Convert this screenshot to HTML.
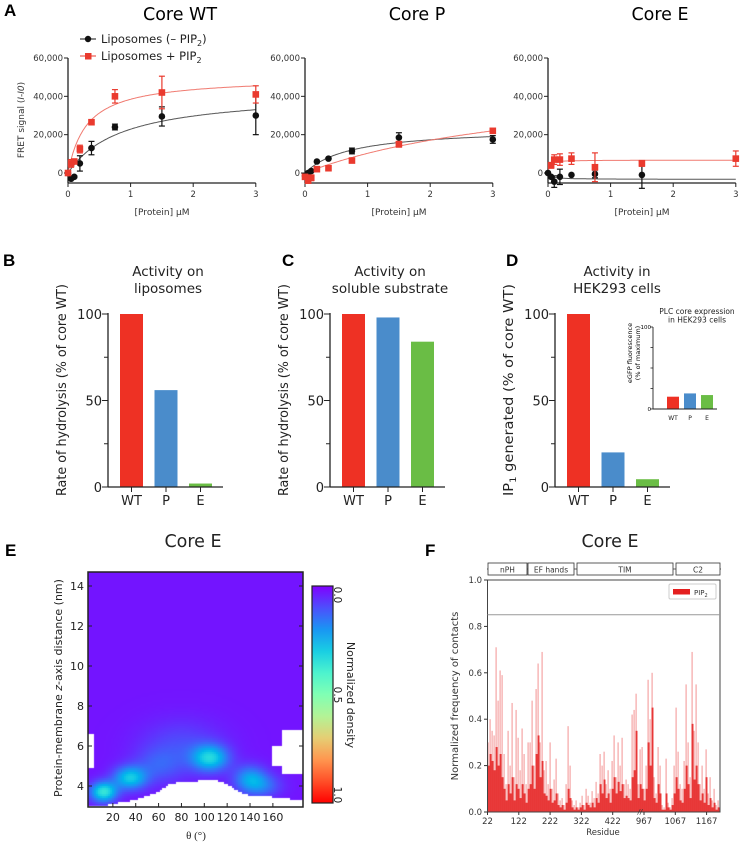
<!DOCTYPE html>
<html><head><meta charset="utf-8">
<style>
html,body{margin:0;padding:0;background:#fff;}
svg{display:block;font-family:"DejaVu Sans","Liberation Sans",sans-serif;}
.pl{font-family:"Liberation Sans",sans-serif;font-weight:bold;font-size:17px;}
</style></head>
<body>
<svg id="fig" width="750" height="843" viewBox="0 0 750 843" xmlns="http://www.w3.org/2000/svg">
<text class="pl" x="4" y="16">A</text>
<text class="pl" x="3" y="266">B</text>
<text class="pl" x="282" y="266">C</text>
<text class="pl" x="506" y="266">D</text>
<text class="pl" x="5" y="556">E</text>
<text class="pl" x="425" y="556">F</text>
<foreignObject x="88" y="572" width="215" height="235">
<canvas id="heat" width="215" height="235" xmlns="http://www.w3.org/1999/xhtml" style="display:block"></canvas>
</foreignObject>
</svg>
<script>
// ---------- Panel A data ----------
const concs = [0, 0.05, 0.1, 0.19, 0.375, 0.75, 1.5, 3];
const wtBlack = [0, -3000, -2000, 5000, 13000, 24000, 29500, 30000];
const wtBlackErr = [0, 500, 500, 4000, 3500, 1500, 5000, 10000];
const wtRed = [0, 5000, 6000, 12500, 26500, 40000, 42000, 41000];
const wtRedErr = [0, 2000, 1000, 2000, 500, 3500, 8500, 4500];
const pBlack = [-1500, 0, 1000, 6000, 7500, 11500, 18500, 17500];
const pBlackErr = [0, 0, 0, 0, 0, 1500, 2500, 2000];
const pRed = [-2000, -4000, -2500, 2000, 2500, 6500, 15000, 22000];
const pRedErr = [0, 0, 1500, 0, 0, 1000, 1500, 1000];
const eBlack = [0, -2000, -4500, -2000, -1000, -500, -1000, null];
const eBlackErr = [0, 0, 3000, 4000, 0, 2000, 7000, 0];
const eRed = [null, 4000, 7000, 7000, 7500, 3000, 5000, 7500];
const eRedErr = [0, 1500, 2500, 3000, 3000, 7500, 1500, 4000];
const fitBmax = {wtB: 42430, wtR: 50000, pB: 23585, pR: 51333, eB: -3300, eR: 6700};
const fitK = {wtB: 0.857, wtR: 0.3, pB: 0.724, pR: 4, eB: 0.05, eR: 0.02};
const aYTicks = [0, 20000, 40000, 60000];
const aYTickLabels = ["0", "20,000", "40,000", "60,000"];
const aXTicks = [0, 1, 2, 3];
// ---------- Bar panels data ----------
const barCats = ["WT", "P", "E"];
const liposomeVals = [100, 56, 2];
const solubleVals = [100, 98, 84];
const hekVals = [100, 20, 4.5];
const expressionVals = [15, 19, 17];
const barColors = ["#ee3124", "#4a8ccb", "#6abd45"];
// ---------- Panel E data ----------
const blobTheta = [12, 35, 105, 140, 80, 60, 150];
const blobZ = [3.7, 4.4, 5.4, 4.4, 6.0, 5.0, 4.0];
const blobAmp = [0.33, 0.26, 0.27, 0.17, 0.07, 0.08, 0.12];
const blobSigT = [8, 10, 11, 10, 25, 15, 12];
const blobSigZ = [0.35, 0.4, 0.45, 0.45, 0.9, 0.6, 0.4];
const boundaryTheta = [0, 10, 20, 30, 40, 50, 60, 70, 80, 90, 100, 110, 120, 130, 140, 150, 160, 170, 180, 190];
const boundaryZ = [2.95, 3.0, 3.1, 3.2, 3.3, 3.5, 3.7, 4.1, 4.2, 4.2, 4.3, 4.3, 4.1, 3.7, 3.5, 3.5, 3.45, 3.4, 3.3, 3.3];
const eYTicks = [4, 6, 8, 10, 12, 14];
const eXTicks = [20, 40, 60, 80, 100, 120, 140, 160];
// ---------- Panel F data ----------
const contactLight = [0.30,0.40,0.35,0.33,0.71,0.48,0.61,0.59,0.25,0.12,
0.35,0.20,0.47,0.15,0.44,0.32,0.18,0.36,0.25,0.12,
0.30,0.30,0.48,0.20,0.53,0.64,0.30,0.69,0.18,0.22,
0.12,0.30,0.10,0.14,0.23,0.08,0.05,0.06,0.03,0.12,
0.37,0.20,0.05,0.03,0.05,0.02,0.04,0.07,0.03,0.10,
0.07,0.04,0.09,0.06,0.13,0.08,0.25,0.20,0.26,0.12,
0.18,0.10,0.22,0.33,0.15,0.30,0.20,0.32,0.12,0.14,
0.12,0.10,0.42,0.44,0.51,0.12,0.27,0.28,0.10,0.20,
0.57,0.40,0.60,0.15,0.08,0.28,0.20,0.03,0.02,0.23,
0.04,0.02,0.06,0.20,0.45,0.26,0.12,0.10,0.22,0.55,
0.30,0.15,0.69,0.35,0.55,0.30,0.12,0.20,0.10,0.27,
0.08,0.15,0.05,0.10,0.03,0.05];
const contactDark = [0.20,0.25,0.22,0.18,0.28,0.20,0.25,0.15,0.10,0.05,
0.12,0.08,0.15,0.05,0.12,0.10,0.06,0.12,0.08,0.04,
0.10,0.12,0.20,0.10,0.25,0.33,0.15,0.22,0.08,0.07,
0.05,0.10,0.04,0.05,0.08,0.03,0.02,0.03,0.01,0.04,
0.10,0.06,0.02,0.01,0.02,0.01,0.02,0.03,0.01,0.04,
0.03,0.02,0.04,0.02,0.06,0.04,0.12,0.08,0.14,0.06,
0.08,0.04,0.10,0.15,0.08,0.13,0.09,0.12,0.06,0.07,
0.06,0.05,0.15,0.18,0.35,0.06,0.12,0.10,0.05,0.10,
0.30,0.20,0.45,0.06,0.04,0.12,0.08,0.01,0.01,0.08,
0.02,0.01,0.03,0.08,0.15,0.10,0.05,0.04,0.10,0.20,
0.12,0.06,0.38,0.14,0.20,0.12,0.05,0.08,0.04,0.15,
0.03,0.06,0.02,0.04,0.01,0.02];
const fXTickLabels = ["22", "122", "222", "322", "422", "967", "1067", "1167"];
const fYTicks = [0, 0.2, 0.4, 0.6, 0.8, 1.0];
const domainNames = ["nPH", "EF hands", "TIM", "C2"];

const NS = "http://www.w3.org/2000/svg";
const svg = document.getElementById("fig");
function mk(tag, attrs, parent, txt) {
  const e = document.createElementNS(NS, tag);
  for (const k in attrs) e.setAttribute(k, attrs[k]);
  if (txt !== undefined) e.textContent = txt;
  (parent || svg).appendChild(e);
  return e;
}
function grp(name) {
  const g = mk("g", {});
  
  
  return g;
}

// ---------- Panel A ----------
function panelA(x0, title, name, blackV, blackE, redV, redE, fb, fr) {
  const g = grp(name);
  const sx = v => x0 + v * 62.6;
  const sy = v => 173 - v * 115 / 60000;
  const t = mk("text", {x: x0 + 112, y: 20, "font-size": 17.5, "text-anchor": "middle"}, g, title);
  
  
  mk("line", {x1: x0, y1: 58, x2: x0, y2: 183, stroke: "#222", "stroke-width": 1.3}, g);
  mk("line", {x1: x0, y1: 183, x2: sx(3), y2: 183, stroke: "#222", "stroke-width": 1.3}, g);
  aYTicks.forEach((v, i) => {
    mk("line", {x1: x0 - 4, y1: sy(v), x2: x0, y2: sy(v), stroke: "#222"}, g);
    const l = mk("text", {x: x0 - 5, y: sy(v) + 3, "font-size": 8.5, "text-anchor": "end", fill: "#333"}, g, aYTickLabels[i]);
    
    
  });
  aXTicks.forEach(v => {
    mk("line", {x1: sx(v), y1: 183, x2: sx(v), y2: 187, stroke: "#222"}, g);
    const l = mk("text", {x: sx(v), y: 197, "font-size": 8.5, "text-anchor": "middle", fill: "#333"}, g, String(v));
    
    
  });
  const xl = mk("text", {x: x0 + 94, y: 215, "font-size": 9, "text-anchor": "middle", fill: "#333"}, g, "[Protein] μM");
  
  
  [[fb, "#555"], [fr, "#f07a70"]].forEach(([k, c]) => {
    let d = "";
    for (let i = 0; i <= 150; i++) {
      const v = 3 * i / 150;
      const y = fitBmax[k] * v / (fitK[k] + v);
      d += (i ? "L" : "M") + sx(v).toFixed(1) + "," + sy(y).toFixed(1);
    }
    const p = mk("path", {d: d, fill: "none", stroke: c, "stroke-width": 1}, g);
    
    
  });
  function pts(vals, errs, col, sq, nm) {
    vals.forEach((v, i) => {
      if (v === null) return;
      const cx = sx(concs[i]), cy = sy(v);
      if (errs[i] > 0) {
        const e1 = sy(v + errs[i]), e2 = sy(v - errs[i]);
        mk("line", {x1: cx, y1: e1, x2: cx, y2: e2, stroke: col, "stroke-width": 1.2}, g);
        mk("line", {x1: cx - 3, y1: e1, x2: cx + 3, y2: e1, stroke: col, "stroke-width": 1.2}, g);
        mk("line", {x1: cx - 3, y1: e2, x2: cx + 3, y2: e2, stroke: col, "stroke-width": 1.2}, g);
      }
      const m = sq ? mk("rect", {x: cx - 3.3, y: cy - 3.3, width: 6.6, height: 6.6, fill: col}, g)
                   : mk("circle", {cx: cx, cy: cy, r: 3.3, fill: col}, g);
      
      
    });
  }
  pts(blackV, blackE, "#111", false, "point-minus-pip2");
  pts(redV, redE, "#ea3a2e", true, "point-plus-pip2");
}
panelA(68, "Core WT", "panel-a-core-wt", wtBlack, wtBlackErr, wtRed, wtRedErr, "wtB", "wtR");
panelA(305, "Core P", "panel-a-core-p", pBlack, pBlackErr, pRed, pRedErr, "pB", "pR");
panelA(548, "Core E", "panel-a-core-e", eBlack, eBlackErr, eRed, eRedErr, "eB", "eR");
{
  const g = grp("legend-a");
  mk("line", {x1: 80, y1: 39, x2: 96, y2: 39, stroke: "#111"}, g);
  mk("circle", {cx: 88, cy: 39, r: 3.2, fill: "#111"}, g);
  const a = mk("text", {x: 101, y: 43, "font-size": 11.5, fill: "#222"}, g);
  
  
  mk("tspan", {}, a, "Liposomes (– PIP");
  mk("tspan", {"font-size": 8, dy: 3}, a, "2");
  mk("tspan", {dy: -3}, a, ")");
  mk("line", {x1: 80, y1: 56, x2: 96, y2: 56, stroke: "#ea3a2e"}, g);
  mk("rect", {x: 85, y: 53, width: 6.5, height: 6.5, fill: "#ea3a2e"}, g);
  const b = mk("text", {x: 101, y: 60, "font-size": 11.5, fill: "#222"}, g);
  
  
  mk("tspan", {}, b, "Liposomes + PIP");
  mk("tspan", {"font-size": 8, dy: 3}, b, "2");
  const yl = mk("text", {transform: "translate(24,120) rotate(-90)", "font-size": 9, "text-anchor": "middle", fill: "#333"}, g);
  
  
  mk("tspan", {}, yl, "FRET signal (");
  mk("tspan", {"font-style": "italic"}, yl, "I-I0");
  mk("tspan", {}, yl, ")");
}

// ---------- Bar panels ----------
function barPanel(ax, vals, name, titleLines, titleX, ylabelX, ylabel, sub) {
  const g = grp(name);
  const sy = v => 487 - v * 1.73;
  titleLines.forEach((t, i) => {
    const e = mk("text", {x: titleX, y: 276 + i * 17, "font-size": 13.5, "text-anchor": "middle", fill: "#222"}, g, t);
    
    
  });
  vals.forEach((v, i) => {
    const r = mk("rect", {x: ax + 12 + i * 34.5, y: sy(v), width: 23, height: 487 - sy(v), fill: barColors[i]}, g);
    
    
    mk("line", {x1: ax + 23.5 + i * 34.5, y1: 487, x2: ax + 23.5 + i * 34.5, y2: 492, stroke: "#222"}, g);
    const l = mk("text", {x: ax + 23.5 + i * 34.5, y: 505, "font-size": 13, "text-anchor": "middle", fill: "#222"}, g, barCats[i]);
    
    
  });
  mk("line", {x1: ax, y1: 313, x2: ax, y2: 487.5, stroke: "#222", "stroke-width": 1.3}, g);
  mk("line", {x1: ax, y1: 487, x2: ax + 115, y2: 487, stroke: "#222", "stroke-width": 1.3}, g);
  [0, 25, 50, 75, 100].forEach(v => {
    const major = v % 50 === 0;
    mk("line", {x1: ax - (major ? 6 : 4), y1: sy(v), x2: ax, y2: sy(v), stroke: "#222"}, g);
    if (major) {
      const l = mk("text", {x: ax - 6, y: sy(v) + 5, "font-size": 13, "text-anchor": "end", fill: "#222"}, g, String(v));
      
      
    }
  });
  const yl = mk("text", {transform: "translate(" + ylabelX + ",390) rotate(-90)", "font-size": 13, "text-anchor": "middle", fill: "#222", textLength: 212, lengthAdjust: "spacingAndGlyphs"}, g);
  
  
  if (sub) {
    mk("tspan", {}, yl, "IP");
    mk("tspan", {"font-size": 9, dy: 3}, yl, "1");
    mk("tspan", {dy: -3}, yl, " generated (% of core WT)");
  } else yl.textContent = ylabel;
}
barPanel(108, liposomeVals, "panel-b-liposomes", ["Activity on", "liposomes"], 168, 66, "Rate of hydrolysis (% of core WT)");
barPanel(330, solubleVals, "panel-c-soluble", ["Activity on", "soluble substrate"], 390, 288, "Rate of hydrolysis (% of core WT)");
barPanel(555, hekVals, "panel-d-hek293", ["Activity in", "HEK293 cells"], 617, 513, "", true);
{
  const g = grp("inset-expression");
  const ax = 653, sy = v => 409 - v * 0.82;
  ["PLC core expression", "in HEK293 cells"].forEach((t, i) => {
    mk("text", {x: 697, y: 314 + i * 8.5, "font-size": 7.5, "text-anchor": "middle", fill: "#222"}, g, t);
  });
  expressionVals.forEach((v, i) => {
    const r = mk("rect", {x: ax + 14 + i * 17, y: sy(v), width: 12, height: 409 - sy(v), fill: barColors[i]}, g);
    
    
    mk("text", {x: ax + 20 + i * 17, y: 420, "font-size": 6, "text-anchor": "middle", fill: "#222"}, g, barCats[i]);
  });
  mk("line", {x1: ax, y1: 327, x2: ax, y2: 409, stroke: "#222", "stroke-width": 0.9}, g);
  mk("line", {x1: ax, y1: 409, x2: ax + 64, y2: 409, stroke: "#222", "stroke-width": 0.9}, g);
  [0, 25, 50, 75, 100].forEach(v => mk("line", {x1: ax - 2.5, y1: sy(v), x2: ax, y2: sy(v), stroke: "#222", "stroke-width": 0.8}, g));
  mk("text", {x: ax - 2, y: 329, "font-size": 5.5, "text-anchor": "end"}, g, "100");
  mk("text", {x: ax - 2, y: 411, "font-size": 5.5, "text-anchor": "end"}, g, "0");
  mk("text", {transform: "translate(632,353) rotate(-90)", "font-size": 6.5, "text-anchor": "middle"}, g, "eGFP fluorescence");
  mk("text", {transform: "translate(640,353) rotate(-90)", "font-size": 6.5, "text-anchor": "middle"}, g, "(% of maximum)");
}

// ---------- Panel E ----------
{
  const g = grp("panel-e-heatmap");
  const tx = th => 90 + th * 1.143;
  const ty = z => 786 - (z - 4) * 20;
  mk("text", {x: 193, y: 547, "font-size": 17.5, "text-anchor": "middle", fill: "#222"}, g, "Core E");
  function rainbow(v) {
    const r = Math.min(1, Math.abs(2 * v - 0.5)), gg = Math.sin(Math.PI * v), b = Math.cos(Math.PI * v / 2);
    return [Math.round(r * 255), Math.round(gg * 255), Math.round(b * 255)];
  }
  function lowerZ(th) {
    for (let i = 0; i < boundaryTheta.length - 1; i++) {
      if (th >= boundaryTheta[i] && th <= boundaryTheta[i + 1]) {
        const f = (th - boundaryTheta[i]) / (boundaryTheta[i + 1] - boundaryTheta[i]);
        return boundaryZ[i] + f * (boundaryZ[i + 1] - boundaryZ[i]);
      }
    }
    return 3;
  }
  const cv = document.getElementById("heat");
  
  
  const ctx = cv.getContext("2d");
  const cell = 2;
  for (let px = 0; px < 215; px += cell) {
    for (let py = 0; py < 235; py += cell) {
      const th = (88 + px + 1 - 90) / 1.143;
      const z = 4 + (786 - (572 + py + 1)) / 20;
      if (z < lowerZ(th)) continue;
      if (z > 14.65) continue;
      if (th < 4 && z > 4.9 && z < 6.6) continue;
      if (th > 168 && z > 4.6 && z < 6.8) continue;
      if (th > 160 && z > 5.0 && z < 6.0) continue;
      let v = 0.025;
      for (let k = 0; k < blobTheta.length; k++) {
        const dt = (th - blobTheta[k]) / blobSigT[k], dz = (z - blobZ[k]) / blobSigZ[k];
        v += blobAmp[k] * Math.exp(-0.5 * (dt * dt + dz * dz));
      }
      const c = rainbow(Math.min(v, 1));
      ctx.fillStyle = "rgb(" + c.join(",") + ")";
      ctx.fillRect(px, py, cell, cell);
    }
  }
  mk("rect", {x: 88, y: 572, width: 215, height: 235, fill: "none", stroke: "#222", "stroke-width": 1.5}, g);
  eYTicks.forEach(v => {
    mk("line", {x1: 88, y1: ty(v), x2: 92, y2: ty(v), stroke: "#222"}, g);
    mk("line", {x1: 299, y1: ty(v), x2: 303, y2: ty(v), stroke: "#222"}, g);
    const l = mk("text", {x: 84, y: ty(v) + 4, "font-size": 11, "text-anchor": "end", fill: "#222"}, g, String(v));
    
    
  });
  eXTicks.forEach(v => {
    mk("line", {x1: tx(v), y1: 807, x2: tx(v), y2: 803, stroke: "#222"}, g);
    const l = mk("text", {x: tx(v), y: 821, "font-size": 11, "text-anchor": "middle", fill: "#222"}, g, String(v));
    
    
  });
  const xl = mk("text", {x: 196, y: 839, "font-size": 11, "text-anchor": "middle", fill: "#222", "font-family": "Liberation Serif, DejaVu Serif, serif"}, g, "θ (°)");
  
  
  const yl = mk("text", {transform: "translate(62,688) rotate(-90)", "font-size": 11, "text-anchor": "middle", fill: "#222"}, g);
  
  
  mk("tspan", {}, yl, "Protein-membrane ");
  mk("tspan", {"font-style": "italic"}, yl, "z");
  mk("tspan", {}, yl, "-axis distance (nm)");
  const defs = mk("defs", {}, g);
  const lg = mk("linearGradient", {id: "rb", x1: 0, y1: 0, x2: 0, y2: 1}, defs);
  for (let i = 0; i <= 10; i++) {
    const c = rainbow(i / 10);
    mk("stop", {offset: (i * 10) + "%", "stop-color": "rgb(" + c.join(",") + ")"}, lg);
  }
  const cb = mk("rect", {x: 312, y: 586, width: 21, height: 217, fill: "url(#rb)", stroke: "#222", "stroke-width": 1.2}, g);
  
  
  [["0.0", 595], ["0.5", 695], ["1.0", 795]].forEach(([t, y]) => {
    mk("text", {transform: "translate(334," + y + ") rotate(90)", "font-size": 10.5, "text-anchor": "middle", fill: "#222"}, g, t);
  });
  const ct = mk("text", {transform: "translate(347,695) rotate(90)", "font-size": 11, "text-anchor": "middle", fill: "#222"}, g, "Normalized density");
  
  
}

// ---------- Panel F ----------
{
  const g = grp("panel-f-contacts");
  const x0 = 487.5, sy = v => 812 - v * 232;
  mk("text", {x: 610, y: 547, "font-size": 17.5, "text-anchor": "middle", fill: "#222"}, g, "Core E");
  const bw = 232 / contactLight.length;
  contactLight.forEach((v, i) => {
    const r = mk("rect", {x: x0 + i * bw, y: sy(v), width: bw * 0.6, height: 812 - sy(v), fill: "#f5a5a5"}, g);
    
    
  });
  contactDark.forEach((v, i) => {
    const r = mk("rect", {x: x0 + i * bw, y: sy(v), width: bw, height: 812 - sy(v), fill: "#e41f1f", opacity: 0.85}, g);
    
    
  });
  mk("rect", {x: 487.5, y: 580, width: 232.5, height: 232, fill: "none", stroke: "#444", "stroke-width": 1}, g);
  mk("line", {x1: 487.5, y1: sy(0.85), x2: 720, y2: sy(0.85), stroke: "#999", "stroke-width": 1}, g);
  fYTicks.forEach(v => {
    mk("line", {x1: 484, y1: sy(v), x2: 487.5, y2: sy(v), stroke: "#333"}, g);
    const l = mk("text", {x: 482, y: sy(v) + 3, "font-size": 8.5, "text-anchor": "end", fill: "#333"}, g, v.toFixed(1));
    
    
  });
  fXTickLabels.forEach((t, i) => {
    const x = 487.5 + i * 31.3;
    mk("line", {x1: x, y1: 812, x2: x, y2: 815, stroke: "#333"}, g);
    const l = mk("text", {x: x, y: 824, "font-size": 8.5, "text-anchor": "middle", fill: "#333"}, g, t);
    
    
  });
  mk("text", {x: 640, y: 814, "font-size": 7, "text-anchor": "middle", "font-style": "italic", fill: "#333"}, g, "//");
  mk("text", {x: 603, y: 835, "font-size": 8.5, "text-anchor": "middle", fill: "#333"}, g, "Residue");
  const yl = mk("text", {transform: "translate(458,696) rotate(-90)", "font-size": 10, "text-anchor": "middle", fill: "#333"}, g, "Normalized frequency of contacts");
  
  
  mk("rect", {x: 669, y: 584, width: 47, height: 15, fill: "#fff", stroke: "#ccc", rx: 1.5}, g);
  mk("rect", {x: 673, y: 589, width: 17, height: 5.5, fill: "#e41f1f"}, g);
  const lt = mk("text", {x: 694, y: 595, "font-size": 7, fill: "#333"}, g);
  
  
  mk("tspan", {}, lt, "PIP");
  mk("tspan", {"font-size": 5, dy: 2}, lt, "2");
  const dStart = [488, 528, 577, 676], dEnd = [527, 574, 673, 720];
  mk("line", {x1: 487, y1: 569, x2: 721, y2: 569, stroke: "#333", "stroke-width": 0.8}, g);
  domainNames.forEach((n, i) => {
    const r = mk("rect", {x: dStart[i], y: 563, width: dEnd[i] - dStart[i], height: 12, fill: "#fff", stroke: "#333", "stroke-width": 0.8}, g);
    
    
    mk("text", {x: (dStart[i] + dEnd[i]) / 2, y: 572.5, "font-size": 7.5, "text-anchor": "middle", fill: "#333"}, g, n);
  });
}
</script>
</body></html>
